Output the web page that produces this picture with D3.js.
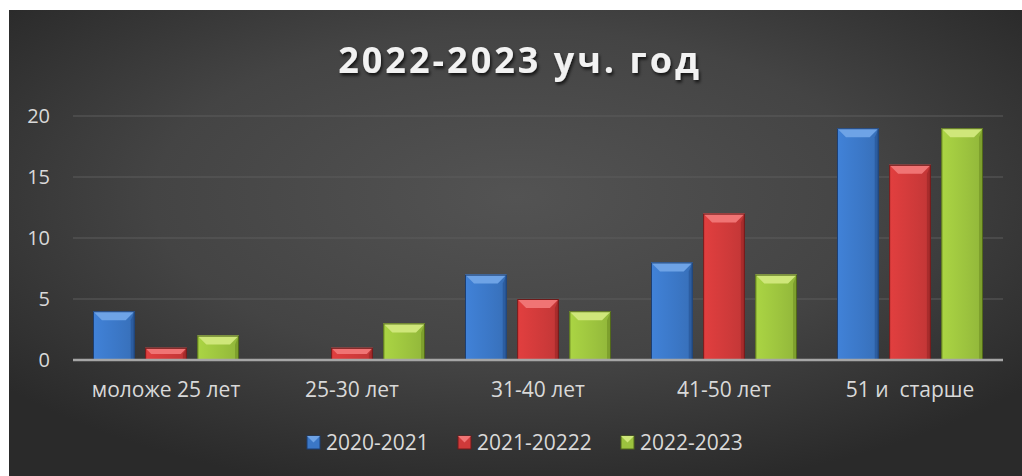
<!DOCTYPE html>
<html><head><meta charset="utf-8">
<script src="https://cdn.jsdelivr.net/npm/d3@7"></script>
<style>html,body{margin:0;padding:0;background:#fff;}svg{display:block;}text{white-space:pre;}</style>
</head><body>
<svg id="chart" width="1022" height="476"></svg>
<script>
const categories = ["моложе 25 лет", "25-30 лет", "31-40 лет", "41-50 лет", "51 и  старше"];
const seriesNames = ["2020-2021", "2021-20222", "2022-2023"];
const s2020 = [4, 0, 7, 8, 19];
const s2021 = [1, 1, 5, 12, 16];
const s2022 = [2, 3, 4, 7, 19];
const yTicks = [0, 5, 10, 15, 20];
const title = "2022-2023 уч. год";

(function(){
const seriesValues = [s2020, s2021, s2022];
const palette = [
  {base:"#3b77c6", light:"#6ea3e6", dark:"#24508f", edge:"#1d3f72"},
  {base:"#cf3a3a", light:"#f07474", dark:"#962424", edge:"#6e1a1a"},
  {base:"#9cc33e", light:"#cfe77a", dark:"#6f8f25", edge:"#52691a"}
];

const svg = d3.select("#chart");
const defs = svg.append("defs");
const bg = defs.append("radialGradient").attr("id","bg").attr("cx","50%").attr("cy","40%").attr("r","65%");
bg.append("stop").attr("offset","0%").attr("stop-color","#535353");
bg.append("stop").attr("offset","55%").attr("stop-color","#444444");
bg.append("stop").attr("offset","100%").attr("stop-color","#2a2a2a");
const sh = defs.append("filter").attr("id","tshadow").attr("x","-10%").attr("y","-30%").attr("width","120%").attr("height","160%");
sh.append("feDropShadow").attr("dx",1.5).attr("dy",2.5).attr("stdDeviation",1.5).attr("flood-color","#000").attr("flood-opacity",0.7);
palette.forEach((p,i)=>{
  const g = defs.append("linearGradient").attr("id","bar"+i).attr("x1","0").attr("x2","1").attr("y1","0").attr("y2","0");
  g.append("stop").attr("offset","0%").attr("stop-color",d3.color(p.base).brighter(0.25));
  g.append("stop").attr("offset","60%").attr("stop-color",p.base);
  g.append("stop").attr("offset","100%").attr("stop-color",d3.color(p.base).darker(0.2));
});

svg.append("rect").attr("x",9).attr("y",10).attr("width",1013).attr("height",466).attr("fill","url(#bg)");

svg.append("text").attr("x",520).attr("y",73).attr("text-anchor","middle")
  .attr("font-family","'Open Sans', sans-serif").attr("font-weight","bold").attr("font-size",36)
  .attr("letter-spacing",3).attr("fill","#f2f2f2").attr("filter","url(#tshadow)").text(title);

const pLeft = 73, pRight = 1003, pTop = 116, pBottom = 360;
const y = d3.scaleLinear().domain([0,20]).range([pBottom, pTop]);
const x0 = d3.scaleBand().domain(categories).range([pLeft, pRight]).padding(0);
const x1 = d3.scaleBand().domain(d3.range(3)).range([20, x0.bandwidth()-20]).paddingInner(0.2);

const font = "'Open Sans', sans-serif";
svg.append("g").selectAll("line").data(yTicks.filter(t=>t>0)).join("line")
  .attr("x1",pLeft).attr("x2",pRight).attr("y1",d=>y(d)).attr("y2",d=>y(d))
  .attr("stroke","#5c5c5c").attr("stroke-width",1.2);
svg.append("g").selectAll("text").data(yTicks).join("text")
  .attr("x",50).attr("y",d=>y(d)+7).attr("text-anchor","end")
  .attr("font-family",font).attr("font-size",20).attr("fill","#d9d9d9").text(d=>d);

const groups = svg.append("g").selectAll("g").data(categories).join("g")
  .attr("transform",d=>`translate(${x0(d)},0)`);
groups.each(function(cat, ci){
  const g = d3.select(this);
  seriesValues.forEach((vals, si)=>{
    const v = vals[ci];
    if (!v) return;
    const p = palette[si];
    const bx = x1(si), bw = x1.bandwidth();
    const by = y(v), bh = y(0)-y(v);
    const bev = Math.min(9, bh/2, bw/2);
    const sb = Math.min(4, bh/2);
    const bg2 = g.append("g");
    bg2.append("rect").attr("x",bx).attr("y",by).attr("width",bw).attr("height",bh).attr("fill",`url(#bar${si})`);
    bg2.append("polygon").attr("points",[[bx,by],[bx+bw,by],[bx+bw-bev,by+bev],[bx+bev,by+bev]].join(" ")).attr("fill",p.light);
    bg2.append("polygon").attr("points",[[bx+bw,by],[bx+bw-sb,by+bev],[bx+bw-sb,by+bh],[bx+bw,by+bh]].join(" ")).attr("fill",p.dark).attr("opacity",0.6);
    bg2.append("rect").attr("x",bx+0.5).attr("y",by+0.5).attr("width",bw-1).attr("height",bh-1)
      .attr("fill","none").attr("stroke",p.edge).attr("stroke-width",1);
  });
});

svg.append("line").attr("x1",pLeft).attr("x2",pRight).attr("y1",y(0)).attr("y2",y(0))
  .attr("stroke","#a6a6a6").attr("stroke-width",2.5);

svg.append("g").selectAll("text").data(categories).join("text")
  .attr("x",d=>x0(d)+x0.bandwidth()/2).attr("y",397).attr("text-anchor","middle")
  .attr("font-family",font).attr("font-size",21).attr("fill","#d9d9d9").text(d=>d);

const legX = [307, 458, 621];
const leg = svg.append("g").selectAll("g").data(seriesNames).join("g")
  .attr("transform",(d,i)=>`translate(${legX[i]},436)`);
leg.append("rect").attr("width",13).attr("height",13).attr("fill",(d,i)=>palette[i].base).attr("stroke",(d,i)=>palette[i].edge);
leg.append("polygon").attr("points","0,0 13,0 6.5,6.5").attr("fill",(d,i)=>palette[i].light);
leg.append("text").attr("x",19).attr("y",14).attr("font-family",font).attr("font-size",21)
  .attr("fill","#d9d9d9").text(d=>d);
})();
</script>
</body></html>
